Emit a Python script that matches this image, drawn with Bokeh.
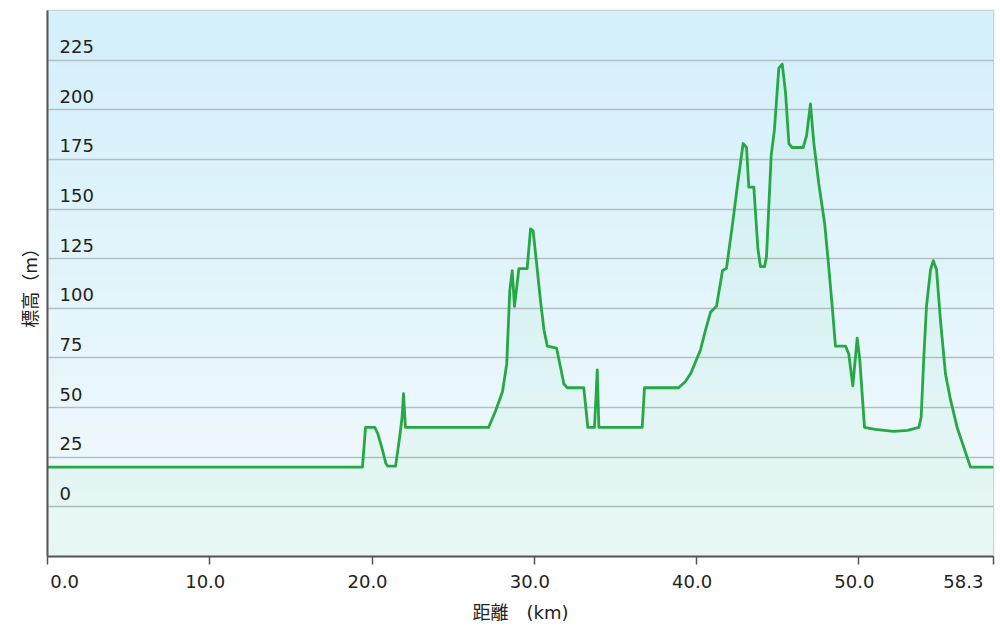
import numpy as np
from bokeh.plotting import figure
from bokeh.models import Range1d, FixedTicker
from bokeh.core.properties import value
from bokeh.embed import file_html
from bokeh.resources import INLINE

# ---- data ----
dist_km = [0, 19.41, 19.6, 20.17, 20.35, 20.6, 20.85, 20.97, 21.45, 21.7, 21.85, 21.94, 22.06,
           27.18, 27.6, 28.04, 28.3, 28.49, 28.64, 28.78, 29.05, 29.56, 29.77, 29.93, 30.15,
           30.38, 30.6, 30.80, 31.37, 31.55, 31.82, 32.03, 33.05, 33.30, 33.71, 33.88, 33.98,
           36.65, 36.79, 38.89, 39.3, 39.63, 40.24, 40.55, 40.86, 41.23, 41.60, 41.84, 42.21,
           42.52, 42.87, 43.08, 43.22, 43.53, 43.78, 43.94, 44.19, 44.31, 44.60, 44.80, 45.07,
           45.28, 45.48, 45.69, 45.89, 46.57, 46.78, 47.02, 47.23, 47.53, 47.89, 48.1, 48.36,
           48.56, 49.18, 49.38, 49.63, 49.90, 50.06, 50.35, 51.0, 52.16, 53.0, 53.70, 53.84,
           54.01, 54.17, 54.42, 54.59, 54.79, 55.03, 55.34, 55.65, 56.06, 56.88, 58.3]
elev_m = [20, 20, 40, 40, 37, 30, 22, 20.5, 20.5, 35, 45, 57, 40,
          40, 48, 58, 72, 109, 119, 101, 120, 120, 140, 139, 122,
          104, 89, 81, 80, 73, 62, 60, 60, 40, 40, 69, 40,
          40, 60, 60, 63, 67, 79, 89, 98, 101, 119, 120, 142,
          162, 183, 181, 161, 161, 130, 121, 121, 126, 177, 190, 221,
          223, 209, 183, 181, 181, 187, 203, 183, 163, 143, 125, 101,
          81, 81, 77, 61, 85, 74, 40, 39, 38, 38.5, 40, 45,
          76, 101, 119.5, 124, 119.5, 94, 67, 54, 40, 20, 20]

x_ticks = [0, 10, 20, 30, 40, 50, 58.3]
x_tick_labels = ["0.0", "10.0", "20.0", "30.0", "40.0", "50.0", "58.3"]
y_ticks = [0, 25, 50, 75, 100, 125, 150, 175, 200, 225]
y_tick_labels = ["0", "25", "50", "75", "100", "125", "150", "175", "200", "225"]

X_MIN, X_MAX = 0, 58.3
Y_MIN, Y_MAX = -25, 250

p = figure(width=1000, height=630, output_backend="svg", toolbar_location=None,
           x_range=Range1d(X_MIN, X_MAX), y_range=Range1d(Y_MIN, Y_MAX),
           min_border_left=47, min_border_right=7, min_border_top=10, min_border_bottom=74,
           background_fill_color="white", border_fill_color="white")

# background vertical gradient (light blue at top to near white at bottom)
n = 276
t = np.linspace(0, 1, n)[:, None]  # 0 bottom -> 1 top
top = np.array([211, 240, 251])
bot = np.array([244, 250, 253])
rgb = (bot + (top - bot) * t).astype(np.uint32)
img = np.empty((n, 1), dtype=np.uint32)
view = img.view(dtype=np.uint8).reshape((n, 1, 4))
view[:, :, 0] = rgb[:, 0:1]
view[:, :, 1] = rgb[:, 1:2]
view[:, :, 2] = rgb[:, 2:3]
view[:, :, 3] = 255
p.image_rgba(image=[img], x=X_MIN, y=Y_MIN, dw=X_MAX - X_MIN, dh=Y_MAX - Y_MIN,
             level="image")

# grid (drawn above the background image)
p.xgrid.visible = False
p.ygrid.ticker = FixedTicker(ticks=y_ticks)
p.ygrid.grid_line_color = "#b4bec2"
p.ygrid.grid_line_width = 1.5
p.ygrid.level = "underlay"

# area + line
p.varea(x=dist_km, y1=Y_MIN, y2=elev_m, fill_color="#3cdc78", fill_alpha=0.06)
p.line(dist_km, elev_m, line_color="#26a845", line_width=2.8, line_join="round")

# y tick labels inside the plot, just above their grid lines
p.text(x=[X_MIN] * len(y_ticks), y=y_ticks, text=y_tick_labels, x_offset=12, y_offset=-13.5,
       text_baseline="alphabetic", text_align="left", text_font=value("DejaVu Sans"),
       text_font_size="18px", text_color="#222222")

# axes
p.yaxis.ticker = FixedTicker(ticks=[])
p.yaxis.axis_line_color = "#555555"
p.yaxis.axis_line_width = 2
p.yaxis.axis_label = "標高（m）"
p.yaxis.axis_label_text_font = "Noto Sans CJK JP"
p.yaxis.axis_label_text_font_size = "18px"
p.yaxis.axis_label_text_font_style = "normal"
p.yaxis.axis_label_text_color = "#222222"
p.yaxis.axis_label_standoff = 6

# x tick labels: end labels are kept inside the frame like the reference
NB = "\u00a0"
EN = "\u2002"
overrides = {}
for i, (tk, lab) in enumerate(zip(x_ticks, x_tick_labels)):
    if i == 0:
        overrides[tk] = NB * 6 + lab
    elif i == len(x_ticks) - 1:
        overrides[tk] = lab + NB * 3
    else:
        overrides[tk] = lab + EN

p.xaxis.ticker = FixedTicker(ticks=x_ticks)
p.xaxis.major_label_overrides = overrides
p.xaxis.major_label_text_font = "DejaVu Sans"
p.xaxis.major_label_text_font_size = "18px"
p.xaxis.major_label_text_color = "#222222"
p.xaxis.major_label_standoff = 6
p.xaxis.axis_line_color = "#555555"
p.xaxis.axis_line_width = 2
p.xaxis.major_tick_line_color = "#555555"
p.xaxis.major_tick_line_width = 1.5
p.xaxis.major_tick_out = 8
p.xaxis.major_tick_in = 0
p.xaxis.minor_tick_line_color = None
p.xaxis.axis_label = "距離　(km)"
p.xaxis.axis_label_text_font = "DejaVu Sans, Noto Sans CJK JP"
p.xaxis.axis_label_text_font_size = "18px"
p.xaxis.axis_label_text_font_style = "normal"
p.xaxis.axis_label_text_color = "#222222"
p.xaxis.axis_label_standoff = 7

p.outline_line_color = "#c3cbcf"
p.outline_line_width = 1.5

open("out.html", "w").write(file_html(p, INLINE))
